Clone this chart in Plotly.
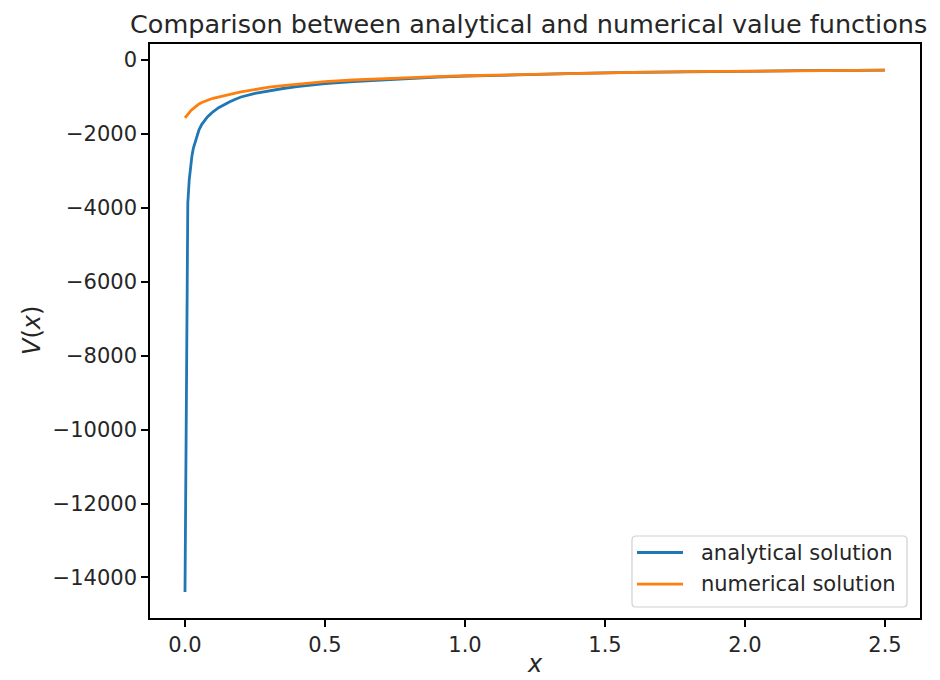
import plotly.graph_objects as go

# Sample grid and the two value functions evaluated on it
x_vals = [0.0, 0.01, 0.015, 0.02, 0.025, 0.03, 0.04, 0.05, 0.06, 0.07, 0.08, 0.09,
          0.1, 0.12, 0.14, 0.16, 0.18, 0.2, 0.25, 0.3, 0.35, 0.4, 0.45, 0.5,
          0.6, 0.7, 0.8, 0.9, 1.0, 1.2, 1.4, 1.6, 1.8, 2.0, 2.2, 2.4, 2.5]
v_analytical = [-14390, -3870, -3250, -2850, -2580, -2380, -2120, -1890, -1740,
                -1630, -1540, -1470, -1400, -1290, -1200, -1130, -1060, -1000,
                -900, -830, -770, -720, -678, -640, -585, -540, -500, -465,
                -435, -395, -362, -336, -315, -300, -288, -278, -274]
v_numerical = [-1565, -1460, -1415, -1375, -1340, -1305, -1245, -1190, -1150,
               -1115, -1085, -1060, -1035, -995, -960, -928, -895, -862,
               -790, -735, -690, -650, -615, -585, -540, -505, -475, -448,
               -425, -388, -358, -334, -314, -299, -287, -277, -272]

series_names = ["analytical solution", "numerical solution"]
series_colors = ["#1f77b4", "#ff7f0e"]

x_ticks = [0.0, 0.5, 1.0, 1.5, 2.0, 2.5]
y_ticks = [0, -2000, -4000, -6000, -8000, -10000, -12000, -14000]

FONT = "DejaVu Sans"
TEXT = "#262626"

fig = go.Figure()
for name, vals, color in zip(series_names, [v_analytical, v_numerical], series_colors):
    fig.add_trace(go.Scatter(x=x_vals, y=vals, mode="lines", name=name,
                             line=dict(color=color, width=2.8), showlegend=False))

# 5% padding on each side, like matplotlib autoscaling
xmin, xmax = min(x_vals), max(x_vals)
all_v = v_analytical + v_numerical
ymin, ymax = min(all_v), max(all_v)
xpad = 0.05 * (xmax - xmin)
ypad = 0.05 * (ymax - ymin)

axis_common = dict(showgrid=False, zeroline=False, showline=True, linecolor="black",
                   linewidth=1.6, mirror=True, ticks="outside", ticklen=7,
                   tickwidth=1.6, tickcolor="black",
                   tickfont=dict(family=FONT, size=21, color=TEXT))

# Plot-area size in pixels, used to lay out the legend box in paper units
L, R, T, B = 150, 20, 44, 62
W, H = 940, 680
PW, PH = W - L - R, H - T - B


def px_x(px):
    return (px - L) / PW


def px_y(py):
    return (H - B - py) / PH


# Legend frame with rounded corners
bx0, bx1, by0, by1 = px_x(632), px_x(907), px_y(607), px_y(536)
rx, ry = 4 / PW, 4 / PH
frame = (f"M {bx0 + rx},{by0} L {bx1 - rx},{by0} Q {bx1},{by0} {bx1},{by0 + ry} "
         f"L {bx1},{by1 - ry} Q {bx1},{by1} {bx1 - rx},{by1} "
         f"L {bx0 + rx},{by1} Q {bx0},{by1} {bx0},{by1 - ry} "
         f"L {bx0},{by0 + ry} Q {bx0},{by0} {bx0 + rx},{by0} Z")
shapes = [dict(type="path", path=frame, xref="paper", yref="paper",
               line=dict(color="#d0d0d0", width=1.2),
               fillcolor="rgba(255,255,255,0.8)")]
annotations = []
for i, (name, color) in enumerate(zip(series_names, series_colors)):
    yrow = px_y(552.5 + i * 31.7)
    shapes.append(dict(type="line", xref="paper", yref="paper",
                       x0=px_x(637), x1=px_x(683), y0=yrow, y1=yrow,
                       line=dict(color=color, width=2.8)))
    annotations.append(dict(text=name, xref="paper", yref="paper", x=px_x(699),
                            y=yrow, xanchor="left", yanchor="middle", showarrow=False,
                            font=dict(family=FONT, size=21, color=TEXT)))

annotations += [
    dict(text="Comparison between analytical and numerical value functions",
         xref="paper", yref="paper", x=0.5, y=1, yshift=20, xshift=-7,
         xanchor="center", yanchor="middle", showarrow=False,
         font=dict(family=FONT, size=25.5, color=TEXT)),
    dict(text="<i>x</i>", xref="paper", yref="paper", x=0.5, y=0, yshift=-46,
         xanchor="center", yanchor="middle", showarrow=False,
         font=dict(family=FONT, size=24, color=TEXT)),
    dict(text="<i>V</i>(<i>x</i>)", xref="paper", yref="paper", x=0, y=0.5,
         xshift=-118, xanchor="center", yanchor="middle", textangle=-90,
         showarrow=False, font=dict(family=FONT, size=24, color=TEXT)),
]

fig.update_layout(
    width=W, height=H,
    margin=dict(l=L, r=R, t=T, b=B),
    paper_bgcolor="white", plot_bgcolor="white",
    font=dict(family=FONT, size=21, color=TEXT),
    showlegend=False,
    xaxis=dict(range=[xmin - xpad, xmax + xpad], tickvals=x_ticks,
               tickformat=".1f", **axis_common),
    yaxis=dict(range=[ymin - ypad, ymax + ypad], tickvals=y_ticks,
               tickformat="d", **axis_common),
    shapes=shapes,
    annotations=annotations,
)

fig.write_html("out.html")
